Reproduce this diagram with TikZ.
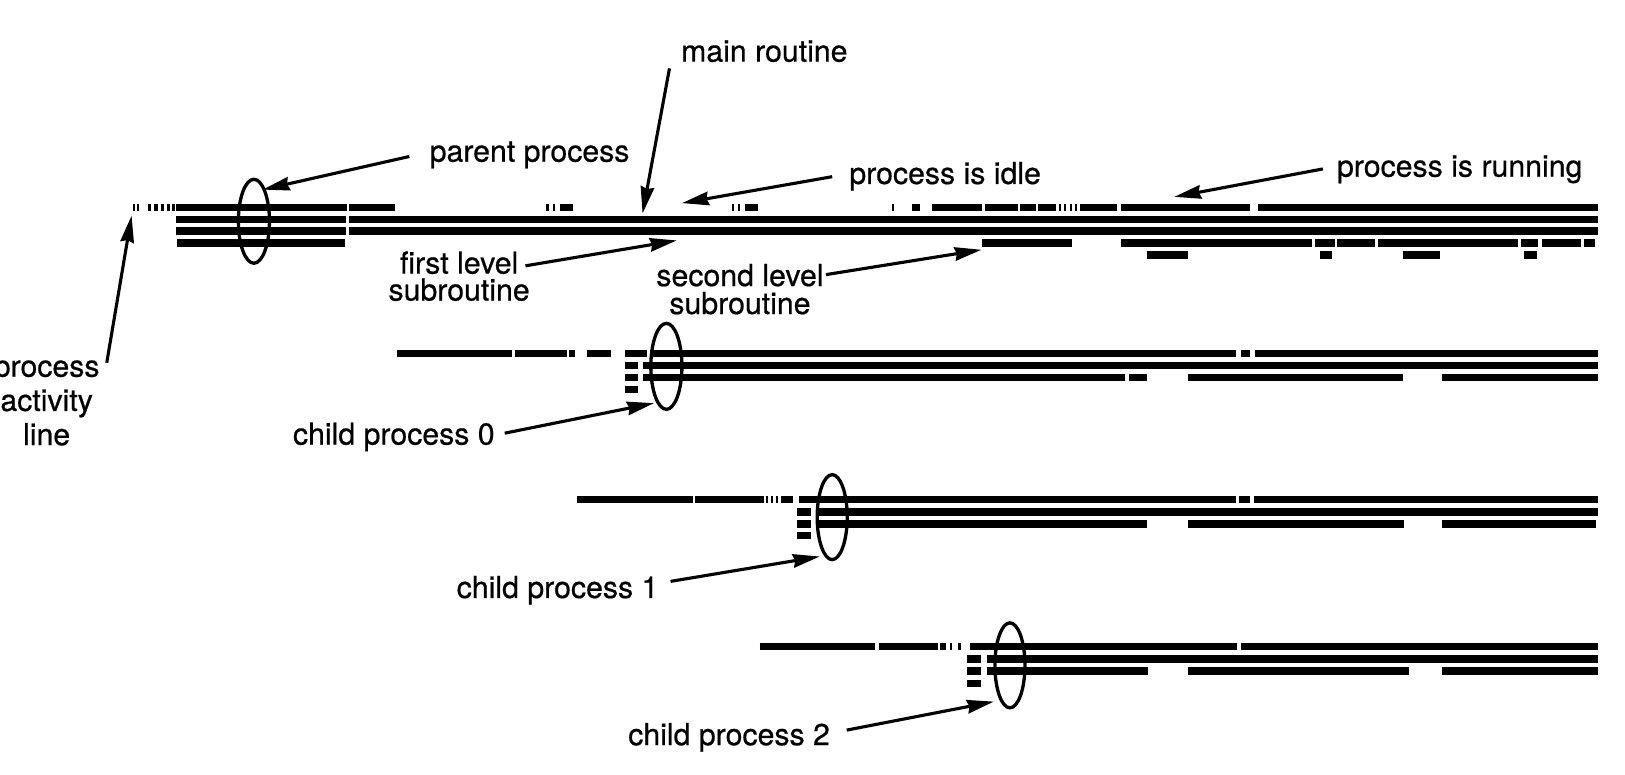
\documentclass[tikz,border=0pt]{standalone}
\usepackage{fontspec}
\setmainfont[FakeBold=0.6]{TeX Gyre Heros}
\usetikzlibrary{arrows.meta,shapes.geometric}
\newcommand\segrow[2]{\foreach \a/\b in {#2} {\draw[bar] (\a,#1) -- (\b,#1);}}
\begin{document}
\begin{tikzpicture}[x=0.5pt,y=-0.5pt,
  bar/.style={line width=3.5pt},
  ring/.style={ellipse,draw,line width=1.6pt,inner sep=0pt},
  lbl/.style={anchor=base,inner sep=0pt,font=\fontsize{14.6}{17}\selectfont},
  pointer/.style={line width=1.5pt,-{Stealth[length=13pt,width=6.5pt,inset=1pt]}}]
\useasboundingbox (0,0) rectangle (1568,747);
% ---------------- parent process bars
\segrow{200}{128/130,132/134,143/146,149/152,155/158,161/164,166/169,170/335,337/381,527/530,534/536,540/553,706/708.5,712/714.5,719/731,860.5/862.5,880/888,899/948,950/982,984/1000,1002/1019,1022/1024,1027/1029,1032/1034,1037/1039,1042/1078,1082/1206,1214/1542}
\segrow{211.5}{170/334,337/1542}
\segrow{223}{170/334,337/1542}
\segrow{234.5}{171/333,948/1034,1082/1266,1269/1288,1290/1327,1330/1465,1468/1484,1488/1526,1528/1539}
\segrow{246}{1107/1146,1274/1285,1354/1389,1471/1483}
% ---------------- child 0
\segrow{341}{383/494,497/547,549/555,566/590,603/624,627/1192.5,1197/1206,1211/1542}
\segrow{352.5}{603/616,620/1542}
\segrow{364}{603/616,620/1086,1089/1107,1146/1354,1391/1542}
\segrow{375.5}{603/616}
% ---------------- child 1
\segrow{482}{557/669,671/737,739/741,744/746,749/751,754/765,771/1193,1196/1206,1210/1542}
\segrow{494}{769/783,787/1542}
\segrow{505.5}{769/783,787/1107,1146/1355,1391/1540}
\segrow{517}{769/783}
% ---------------- child 2
\segrow{624}{733/844,848/905,907/913,917/919,924/927,936/1193.5,1197/1542}
\segrow{636}{933/947,952/1542}
\segrow{647.5}{933/947,952/1108,1146/1360,1391/1542}
\segrow{659.3}{933/947}
% ---------------- ellipses
\node[ring,minimum width=15pt,minimum height=40.5pt] (pell) at (245,213.5) {};
\node[ring,minimum width=15pt,minimum height=41.5pt] (c0ell) at (643,353.5) {};
\node[ring,minimum width=14.5pt,minimum height=41pt] (c1ell) at (803,499) {};
\node[ring,minimum width=14.5pt,minimum height=41pt] (c2ell) at (974.5,642) {};
% ---------------- labels
\node[lbl] (mainr) at (737.5,59.5) {main routine};
\node[lbl] (parent) at (511,156) {parent process};
\node[lbl] (idle) at (912,177.5) {process is idle};
\node[lbl] (running) at (1408.5,170.5) {process is running};
\node[lbl] (fl1) at (443,264) {first level};
\node[lbl] (fl2) at (443,290) {subroutine};
\node[lbl] (sl1) at (714,276) {second level};
\node[lbl] (sl2) at (714,303) {subroutine};
\node[lbl] (pal1) at (45,363.5) {process};
\node[lbl] (pal2) at (45,396.5) {activity};
\node[lbl] (pal3) at (45,429.5) {line};
\node[lbl] (cp0) at (380,429) {child process 0};
\node[lbl] (cp1) at (538,577) {child process 1};
\node[lbl] (cp2) at (703.5,719) {child process 2};
% ---------------- arrow ends
\coordinate (mr-s) at (646,66);      \coordinate (mr-t) at (620,206);
\coordinate (pp-s) at (395,151);     \coordinate (pp-t) at (253.5,183);
\coordinate (id-s) at (803,170.5);   \coordinate (id-t) at (658,196);
\coordinate (ru-s) at (1276.5,163);  \coordinate (ru-t) at (1133,190);
\coordinate (fl-s) at (507,256.5);   \coordinate (fl-t) at (653,232);
\coordinate (sl-s) at (797,265);     \coordinate (sl-t) at (947,241);
\coordinate (pa-s) at (103,350);     \coordinate (pa-t) at (127,208);
\coordinate (c0-s) at (487,418);     \coordinate (c0-t) at (631,389);
\coordinate (c1-s) at (647,561);     \coordinate (c1-t) at (791,537);
\coordinate (c2-s) at (817,704.5);   \coordinate (c2-t) at (959,677);
\foreach \n in {mr,pp,id,ru,fl,sl,pa,c0,c1,c2} {\draw[pointer] (\n-s) -- (\n-t);}
\end{tikzpicture}
\end{document}
